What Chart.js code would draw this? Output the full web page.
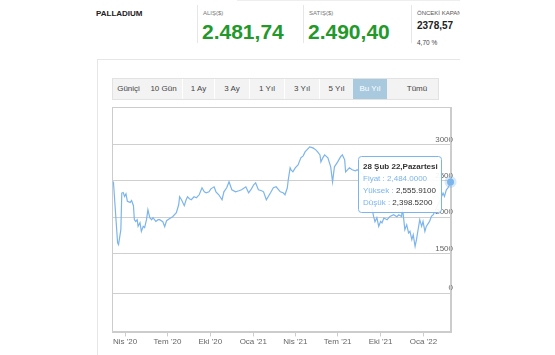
<!DOCTYPE html>
<html><head><meta charset="utf-8">
<script src="https://cdn.jsdelivr.net/npm/chart.js@4.4.1/dist/chart.umd.min.js"></script>
<style>
html,body{margin:0;padding:0;background:#fff;width:555px;height:355px;overflow:hidden;font-family:"Liberation Sans",Arial,sans-serif;}
#wrap{position:relative;width:555px;height:355px;}
.a{position:absolute;white-space:nowrap;line-height:1;}
.ln{position:absolute;background:#e6e6e6;}
.btn{position:absolute;top:78px;height:21px;line-height:21px;text-align:center;font-size:8px;color:#444;}
canvas{position:absolute;left:0;top:0;}
</style></head>
<body><div id="wrap">
<div class="ln" style="left:237px;top:0;width:223px;height:1px;background:#eee"></div>
<div class="a" style="left:96px;top:10px;font-size:8px;font-weight:bold;color:#222">PALLADIUM</div>
<div class="ln" style="left:197px;top:5px;width:1px;height:38px"></div>
<div class="a" style="left:203px;top:10px;font-size:6px;color:#777">ALIŞ($)</div>
<div class="a" style="left:202px;top:21px;font-size:21px;font-weight:bold;color:#23982b">2.481,74</div>
<div class="ln" style="left:303px;top:5px;width:1px;height:38px"></div>
<div class="a" style="left:309px;top:10px;font-size:6px;color:#777">SATIŞ($)</div>
<div class="a" style="left:308px;top:21px;font-size:21px;font-weight:bold;color:#23982b">2.490,40</div>
<div class="ln" style="left:411px;top:5px;width:1px;height:38px"></div>
<div class="a" style="left:417px;top:10px;width:43px;overflow:hidden;font-size:6px;color:#555">ÖNCEKİ KAPANIŞ</div>
<div class="a" style="left:417px;top:21px;font-size:10px;font-weight:bold;color:#222">2378,57</div>
<div class="a" style="left:417px;top:40px;font-size:6.5px;color:#444">4,70 %</div>
<div class="ln" style="left:97px;top:59px;width:363px;height:1px"></div>
<div class="ln" style="left:97px;top:59px;width:1px;height:296px"></div>
<div style="position:absolute;left:112px;top:78px;width:325px;height:20px;background:#f3f3f3;border:1px solid #e2e2e2"></div>
<div class="btn" style="left:112px;width:33px">Güniçi</div>
<div class="btn" style="left:146px;width:35px">10 Gün</div>
<div class="ln" style="left:182px;top:79px;width:1px;height:20px;background:#fff"></div>
<div class="btn" style="left:183px;width:31px">1 Ay</div>
<div class="ln" style="left:214px;top:79px;width:1px;height:20px;background:#fff"></div>
<div class="btn" style="left:215px;width:34px">3 Ay</div>
<div class="ln" style="left:249px;top:79px;width:1px;height:20px;background:#fff"></div>
<div class="btn" style="left:250px;width:34px">1 Yıl</div>
<div class="ln" style="left:284px;top:79px;width:1px;height:20px;background:#fff"></div>
<div class="btn" style="left:285px;width:34px">3 Yıl</div>
<div class="ln" style="left:319px;top:79px;width:1px;height:20px;background:#fff"></div>
<div class="btn" style="left:320px;width:33px">5 Yıl</div>
<div class="btn" style="left:353px;width:34px;top:79px;height:20px;line-height:20px;background:#a9c9de;color:#fff">Bu Yıl</div>
<div class="btn" style="left:392px;width:50px">Tümü</div>
<canvas id="c" width="555" height="355"></canvas>
</div>
<script>
const dates = ['2020-03-07','2020-03-16','2020-03-18','2020-03-23','2020-03-25','2020-03-28','2020-03-31','2020-04-03','2020-04-06','2020-04-12',
'2020-04-15','2020-04-19','2020-04-21','2020-04-24','2020-04-27','2020-04-29','2020-05-03','2020-05-06','2020-05-10','2020-05-13',
'2020-05-17','2020-05-20','2020-05-24','2020-05-28','2020-05-31','2020-06-06','2020-06-11','2020-06-14','2020-06-21','2020-06-25',
'2020-06-29','2020-07-05','2020-07-12','2020-07-20','2020-07-25','2020-07-27','2020-07-31','2020-08-06','2020-08-10','2020-08-13',
'2020-08-17','2020-08-21','2020-08-27','2020-09-01','2020-09-07','2020-09-13','2020-09-18','2020-09-22','2020-09-28','2020-10-02',
'2020-10-09','2020-10-13','2020-10-19','2020-10-26','2020-10-30','2020-11-05','2020-11-10','2020-11-16','2020-11-24','2020-12-01',
'2020-12-07','2020-12-16','2020-12-22','2020-12-28','2021-01-02','2021-01-06','2021-01-12','2021-01-19','2021-01-23','2021-01-29',
'2021-02-07','2021-02-13','2021-02-19','2021-02-28','2021-03-06','2021-03-10','2021-03-15','2021-03-17','2021-03-21','2021-03-23',
'2021-03-27','2021-04-01','2021-04-07','2021-04-13','2021-04-18','2021-04-22','2021-04-28','2021-05-02','2021-05-09','2021-05-15',
'2021-05-19','2021-05-24','2021-05-26','2021-05-30','2021-06-03','2021-06-10','2021-06-16','2021-06-20','2021-06-24','2021-07-01',
'2021-07-07','2021-07-11','2021-07-16','2021-07-18','2021-07-22','2021-07-26','2021-08-01','2021-08-08','2021-08-12','2021-08-18',
'2021-08-27','2021-09-04','2021-09-11','2021-09-16','2021-09-19','2021-09-23','2021-09-27','2021-10-01','2021-10-04','2021-10-08',
'2021-10-15','2021-10-21','2021-10-29','2021-11-05','2021-11-09','2021-11-15','2021-11-17','2021-11-22','2021-11-26','2021-11-30',
'2021-12-03','2021-12-07','2021-12-10','2021-12-14','2021-12-17','2021-12-21','2021-12-24','2021-12-28','2021-12-31','2022-01-04',
'2022-01-07','2022-01-14','2022-01-18','2022-01-22','2022-01-29','2022-02-06','2022-02-12','2022-02-15','2022-02-19','2022-02-22',
'2022-02-26','2022-02-28'];
const prices = [2490,1647,1623,1829,2332,2340,2285,2322,2217,2203,
2230,2158,1966,1942,1966,1874,1925,1805,1874,1856,
1966,2103,1993,1966,1993,1942,1966,1966,1938,1870,
1952,1980,2007,2062,2171,2281,2240,2158,2240,2281,
2254,2240,2281,2267,2308,2404,2349,2336,2349,2390,
2418,2349,2308,2240,2349,2404,2486,2377,2349,2363,
2377,2418,2336,2390,2445,2473,2377,2363,2349,2240,
2336,2404,2418,2349,2336,2308,2404,2514,2678,2651,
2623,2678,2719,2815,2843,2897,2939,2966,2952,2925,
2897,2856,2760,2815,2856,2815,2692,2486,2692,2760,
2829,2856,2788,2623,2651,2678,2651,2637,2651,2623,
2569,2445,2171,2011,1938,1993,1874,1942,1921,1989,
1966,2011,2034,2007,2034,2011,2130,1829,1897,1784,
1806,1692,1760,1600,1692,1852,1966,1874,1942,1806,
1874,1942,2011,2034,2130,2240,2332,2285,2377,2400,
2445,2484];
const xTickDates = ['2020-04-01','2020-07-01','2020-10-01','2021-01-01','2021-04-01','2021-07-01','2021-10-01','2022-01-01'];
const xTickLabels = ["Nis '20","Tem '20","Eki '20","Oca '21","Nis '21","Tem '21","Eki '21","Oca '22"];
const priceTicks = [1500,2000,2500,3000];
const lowerTicks = [0];
const tooltipTitle = '28 Şub 22,Pazartesi';
const tooltipLabels = ['Fiyat','Yüksek','Düşük'];
const tooltipValues = ['2,484.0000','2,555.9100','2,398.5200'];

const base = Date.UTC(2020,0,1);
const toDay = s => { const p = s.split('-').map(Number); return (Date.UTC(p[0],p[1]-1,p[2])-base)/86400000; };
const points = dates.map((d,i)=>({x: toDay(d), y: prices[i]}));
const last = points.length-1;
const BLUE = '#7cb5ec';

Chart.defaults.font.family = '"Liberation Sans", Arial, sans-serif';

const framePlugin = {
  id:'frame',
  beforeDatasetsDraw(chart){
    const a = chart.chartArea, c = chart.ctx;
    c.save(); c.strokeStyle = '#cccccc'; c.lineWidth = 1;
    c.strokeRect(Math.round(a.left)+0.5, Math.round(a.top)+0.5, Math.round(a.right-a.left)-1, Math.round(a.bottom-a.top)-1);
    c.restore();
  }
};
const tipPlugin = {
  id:'tip',
  afterDraw(chart){
    const pt = chart.getDatasetMeta(0).data[last];
    const c = chart.ctx;
    const bx = Math.round(pt.x) - 92.5, by = Math.round(pt.y) - 25.5, w = 83, h = 56;
    c.save();
    c.fillStyle = 'rgba(255,255,255,0.92)'; c.strokeStyle = BLUE; c.lineWidth = 1;
    c.beginPath(); c.roundRect(bx, by, w, h, 3); c.fill(); c.stroke();
    c.textBaseline = 'middle'; c.textAlign = 'left';
    c.font = 'bold 8px "Liberation Sans", Arial, sans-serif'; c.fillStyle = '#333';
    c.fillText(tooltipTitle, bx+4.5, by+10.5);
    c.font = '8px "Liberation Sans", Arial, sans-serif';
    tooltipLabels.forEach((lab,i)=>{
      const y = by + 22.5 + i*11.7;
      const t1 = lab + ' : ';
      c.fillStyle = BLUE; c.fillText(t1, bx+4.5, y);
      c.fillStyle = i===0 ? BLUE : '#333';
      c.fillText(tooltipValues[i], bx+4.5 + c.measureText(t1).width, y);
    });
    c.restore();
  }
};

new Chart(document.getElementById('c'), {
  type:'line',
  data:{datasets:[{
    data: points, xAxisID:'x', yAxisID:'y',
    borderColor: BLUE, borderWidth: 1.2, tension: 0, fill: false, clip: false,
    pointRadius: c => c.dataIndex===last ? 3.5 : 0,
    pointBorderWidth: c => c.dataIndex===last ? 5 : 0,
    pointBackgroundColor: BLUE, pointBorderColor: 'rgba(124,181,236,0.3)'
  }]},
  options:{
    responsive:false, animation:false, events:[],
    layout:{padding:{left:112,right:100,top:107,bottom:7}},
    plugins:{legend:{display:false}, tooltip:{enabled:false}},
    scales:{
      x:{type:'linear', min:63, max:790,
        afterBuildTicks: s => { s.ticks = xTickDates.map(d=>({value: toDay(d)})); },
        ticks:{autoSkip:false, maxRotation:0, padding:1, color:'#666', font:{size:8}, callback:(v,i)=>xTickLabels[i]},
        grid:{display:true, drawOnChartArea:false, drawTicks:true, tickLength:4, color:'#cccccc'},
        border:{display:true, color:'#cccccc'}},
      y:{type:'linear', position:'right', stack:'v', stackWeight:147, min:1500, max:3514,
        afterBuildTicks: s => { s.ticks = priceTicks.map(v=>({value:v})); },
        ticks:{mirror:true, padding:2, labelOffset:-5, color:'#666', font:{size:8}, callback: v => String(v)},
        grid:{color:'#cfcfcf', drawTicks:false},
        border:{display:true, color:'#cccccc'}},
      y2:{type:'linear', position:'right', stack:'v', stackWeight:79, min:-1, max:1,
        afterBuildTicks: s => { s.ticks = lowerTicks.map(v=>({value:v})); },
        ticks:{mirror:true, padding:2, labelOffset:-5, color:'#666', font:{size:8}, callback: v => String(v)},
        grid:{color:'#cfcfcf', drawTicks:false},
        border:{display:true, color:'#cccccc'}}
    }
  },
  plugins:[framePlugin, tipPlugin]
});
</script>
</body></html>
